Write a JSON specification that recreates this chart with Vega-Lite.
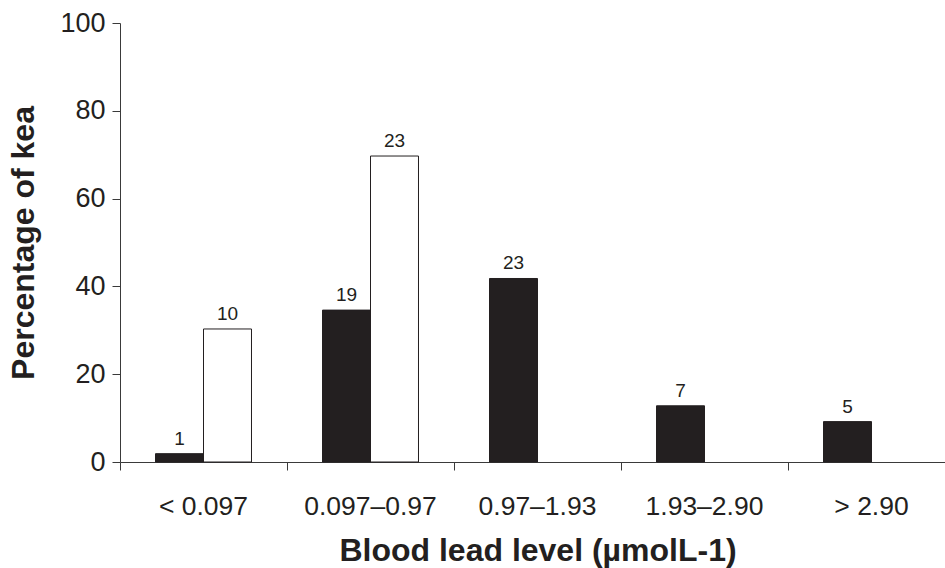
{
  "$schema": "https://vega.github.io/schema/vega-lite/v6.json",
  "width": 835,
  "height": 439,
  "autosize": {"type": "none"},
  "padding": {"left": 120, "top": 23, "right": 0, "bottom": 106},
  "background": "white",
  "config": {
    "view": {"stroke": null},
    "font": "Liberation Sans",
    "axis": {"domainColor": "#3a3a3a", "tickColor": "#3a3a3a", "labelColor": "#231f20", "titleColor": "#231f20", "grid": false, "labelFont": "Liberation Sans", "titleFont": "Liberation Sans"}
  },
  "data": {
    "values": [
      {"level": "< 0.097", "group": "A", "pct": 1.9, "n": 1},
      {"level": "< 0.097", "group": "B", "pct": 30.3, "n": 10},
      {"level": "0.097–0.97", "group": "A", "pct": 34.6, "n": 19},
      {"level": "0.097–0.97", "group": "B", "pct": 69.7, "n": 23},
      {"level": "0.97–1.93", "group": "A", "pct": 41.8, "n": 23},
      {"level": "1.93–2.90", "group": "A", "pct": 12.8, "n": 7},
      {"level": "> 2.90", "group": "A", "pct": 9.2, "n": 5}
    ]
  },
  "encoding": {
    "x": {
      "field": "level", "type": "nominal",
      "sort": ["< 0.097", "0.097–0.97", "0.97–1.93", "1.93–2.90", "> 2.90"],
      "scale": {"paddingInner": 0, "paddingOuter": 0},
      "axis": {
        "title": "Blood lead level (µmolL-1)",
        "labelAngle": 0, "bandPosition": 0,
        "labelFontSize": 26.5, "labelPadding": 23, "tickSize": 8,
        "titleFontSize": 32, "titleFontWeight": "bold",
        "titleY": 98, "titleBaseline": "alphabetic"
      }
    },
    "xOffset": {
      "field": "group", "type": "nominal",
      "scale": {"domain": ["A", "B"], "paddingInner": 0, "paddingOuter": 0.7396}
    },
    "y": {
      "field": "pct", "type": "quantitative",
      "scale": {"domain": [0, 100], "nice": false},
      "axis": {
        "title": "Percentage of kea",
        "values": [0,5,10,15,20,25,30,35,40,45,50,55,60,65,70,75,80,85,90,95,100],
        "labelExpr": "datum.value % 20 === 0 ? datum.label : ''",
        "tickSize": {"condition": {"test": "datum.value % 20 === 0", "value": 8}, "value": 0},
        "encode": {"ticks": {"update": {"x": {"value": 7}}}},
        "labelFontSize": 27, "labelPadding": 7,
        "titleFontSize": 32, "titleFontWeight": "bold",
        "titleX": -97, "titleY": 219.5, "titleAngle": -90, "titleAlign": "center", "titleBaseline": "middle"
      }
    }
  },
  "layer": [
    {
      "mark": {"type": "bar", "stroke": "#231f20", "strokeWidth": 1},
      "encoding": {
        "fill": {"field": "group", "type": "nominal", "scale": {"domain": ["A", "B"], "range": ["#231f20", "#ffffff"]}, "legend": null}
      }
    },
    {
      "mark": {"type": "text", "fontSize": 19, "dy": -9, "baseline": "alphabetic", "align": "center", "color": "#231f20"},
      "encoding": {"text": {"field": "n", "type": "quantitative"}}
    }
  ]
}
